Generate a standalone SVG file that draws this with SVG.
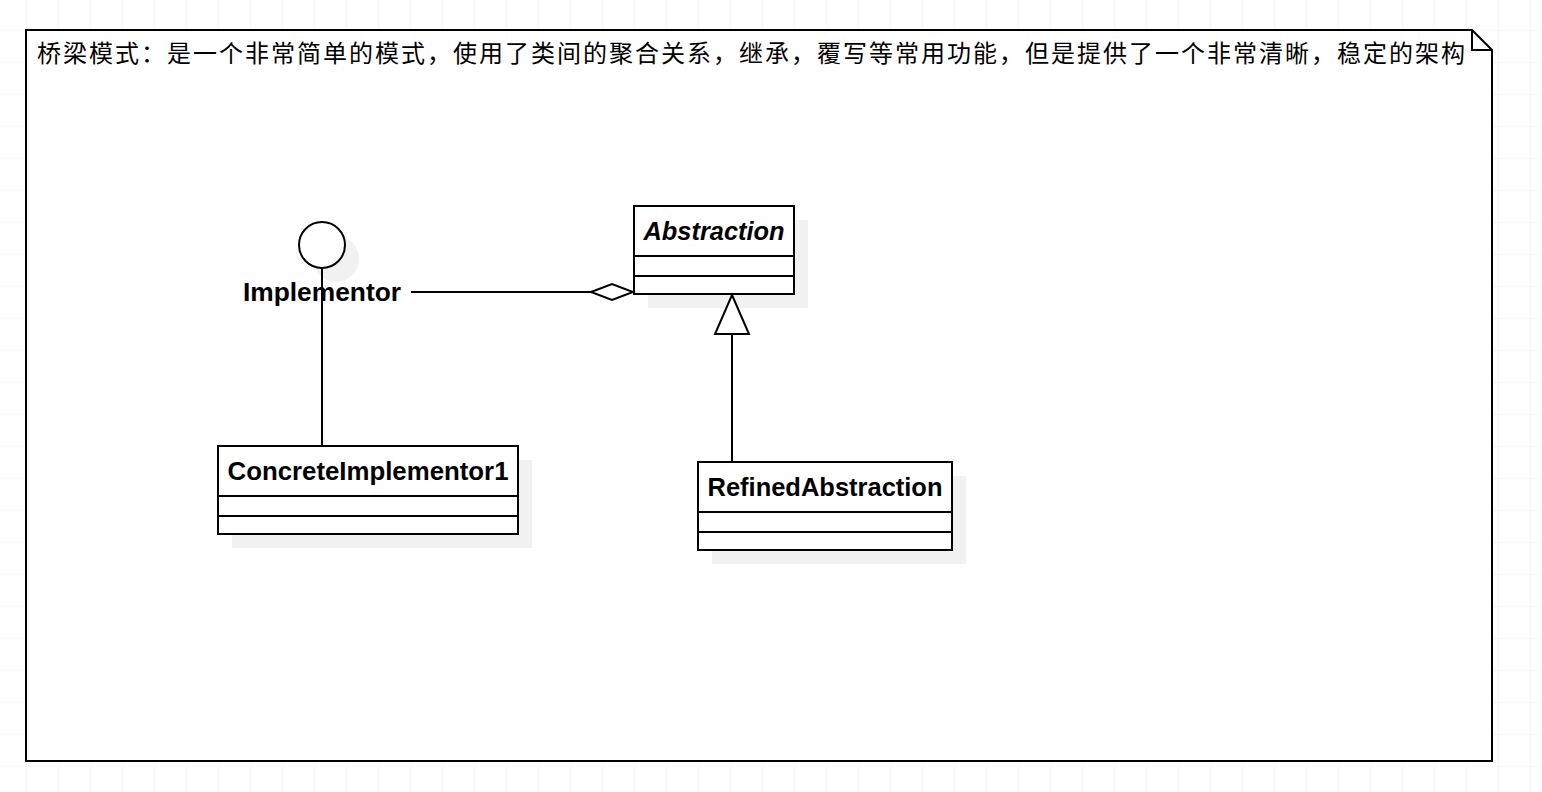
<svg xmlns="http://www.w3.org/2000/svg" width="1542" height="792" viewBox="0 0 1542 792">
  <style>
    .frame{fill:#ffffff;stroke:#000000;stroke-width:2}
    .box{fill:#ffffff;stroke:#000000;stroke-width:2}
    .shadow{fill:#f1f1f1;stroke:none}
    .ln{stroke:#000000;stroke-width:2;fill:none}
    .lbl{font-family:"Liberation Sans",Arial,sans-serif;font-weight:bold;font-size:26px;fill:#000000}
    .title{font-family:"Liberation Sans","Noto Sans CJK SC",sans-serif;font-size:24px;fill:#000000}
  </style>
  <defs>
    <pattern id="grid" x="26" y="30" width="32" height="32" patternUnits="userSpaceOnUse">
      <path d="M 0 0 L 32 0 M 0 0 L 0 32" fill="none" stroke="#efefef" stroke-width="1"/>
    </pattern>
  </defs>
  <rect x="0" y="0" width="1542" height="792" fill="#ffffff"/>
  <rect x="0" y="0" width="1542" height="792" fill="url(#grid)"/>

  <g id="frame">
    <path class="frame" d="M 26 30 L 1472 30 L 1492 50 L 1492 761 L 26 761 Z"/>
    <path class="ln" d="M 1472 30 L 1472 50 L 1492 50"/>
    <text class="title" x="37" y="62" textLength="1428" lengthAdjust="spacing">桥梁模式：是一个非常简单的模式，使用了类间的聚合关系，继承，覆写等常用功能，但是提供了一个非常清晰，稳定的架构</text>
  </g>

  <g id="implementor">
    <circle class="shadow" cx="336" cy="259" r="23"/>
    <circle class="box" cx="322" cy="245" r="23"/>
    <text class="lbl" x="322" y="301" text-anchor="middle" textLength="158" lengthAdjust="spacingAndGlyphs">Implementor</text>
  </g>

  <g id="abstraction">
    <rect class="shadow" x="648" y="220" width="160" height="88"/>
    <rect class="box" x="634" y="206" width="160" height="88"/>
    <line class="ln" x1="634" y1="256" x2="794" y2="256"/>
    <line class="ln" x1="634" y1="276" x2="794" y2="276"/>
    <text class="lbl" x="714" y="240" text-anchor="middle" font-style="italic" textLength="141" lengthAdjust="spacingAndGlyphs">Abstraction</text>
  </g>

  <g id="concreteImplementor1">
    <rect class="shadow" x="232" y="460" width="300" height="88"/>
    <rect class="box" x="218" y="446" width="300" height="88"/>
    <line class="ln" x1="218" y1="496" x2="518" y2="496"/>
    <line class="ln" x1="218" y1="516" x2="518" y2="516"/>
    <text class="lbl" x="368" y="480" text-anchor="middle" textLength="281" lengthAdjust="spacingAndGlyphs">ConcreteImplementor1</text>
  </g>

  <g id="refinedAbstraction">
    <rect class="shadow" x="712" y="476" width="254" height="88"/>
    <rect class="box" x="698" y="462" width="254" height="88"/>
    <line class="ln" x1="698" y1="512" x2="952" y2="512"/>
    <line class="ln" x1="698" y1="532" x2="952" y2="532"/>
    <text class="lbl" x="825" y="496" text-anchor="middle" textLength="235" lengthAdjust="spacingAndGlyphs">RefinedAbstraction</text>
  </g>

  <g id="connectors">
    <line class="ln" x1="322" y1="268" x2="322" y2="446"/>
    <line class="ln" x1="411" y1="292" x2="591" y2="292"/>
    <path class="box" d="M 591 292 L 612 284 L 633 292 L 612 300 Z"/>
    <line class="ln" x1="732" y1="462" x2="732" y2="334"/>
    <path class="box" d="M 732 295 L 749 334 L 715 334 Z"/>
  </g>
</svg>
